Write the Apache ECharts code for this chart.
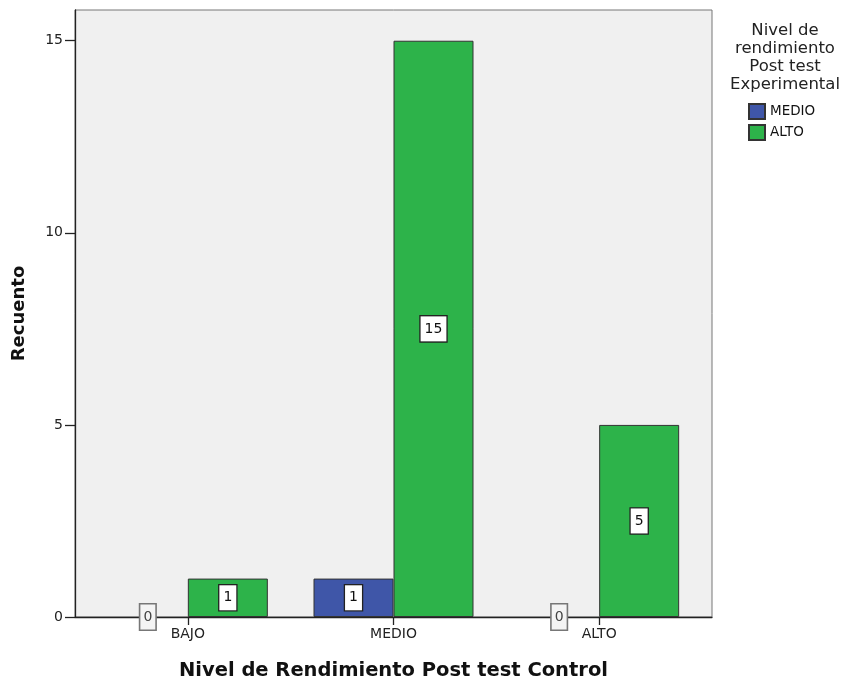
<!DOCTYPE html>
<html>
<head>
<meta charset="utf-8">
<script src="https://cdn.jsdelivr.net/npm/echarts@6/dist/echarts.min.js"></script>
<style>html,body{margin:0;padding:0;background:#fff;}#c{width:844px;height:679px;}</style>
</head>
<body>
<div id="c"></div>
<script>
const categories = ['BAJO', 'MEDIO', 'ALTO'];
const seriesNames = ['MEDIO', 'ALTO'];
const medioValues = [0, 1, 0];
const altoValues = [1, 15, 5];
const yTicks = [0, 5, 10, 15];

const chart = echarts.init(document.getElementById('c'));
const font = 'DejaVu Sans, Verdana, sans-serif';
const baseLabel = {
  show: true, position: 'inside', color: '#111', fontSize: 14, lineHeight: 15, fontFamily: font,
  backgroundColor: '#fff', borderColor: '#222', borderWidth: 1.3, padding: [5, 4, 5, 4]
};
function mkData(vals) {
  return vals.map(v => v === 0
    ? { value: v, itemStyle: { borderWidth: 0 }, label: { color: '#444', borderColor: '#777', backgroundColor: '#f4f4f4', borderWidth: 1.6, padding: [5, 3, 5, 3] } }
    : { value: v });
}
chart.setOption({
  animation: false,
  title: {
    text: 'Nivel de\nrendimiento\nPost test\nExperimental',
    left: 780, top: 17, textAlign: 'center',
    textStyle: { fontSize: 16.5, fontWeight: 'normal', color: '#222', fontFamily: font, lineHeight: 18 }
  },
  legend: {
    data: seriesNames, orient: 'vertical', left: 743, top: 98,
    itemWidth: 16, itemHeight: 15, itemGap: 4, icon: 'rect',
    textStyle: { fontSize: 13.5, color: '#111', fontFamily: font }
  },
  grid: [
    { left: 75, right: 132, top: 10, bottom: 62, show: true, backgroundColor: '#f0f0f0', borderColor: '#777', borderWidth: 1, containLabel: false, outerBoundsMode: 'none' },
    { left: 85, right: 142, top: 10, bottom: 62, containLabel: false, outerBoundsMode: 'none' }
  ],
  xAxis: [
    { gridIndex: 0, type: 'value', min: 0, max: 1, axisLine: { show: true, lineStyle: { color: '#222', width: 1.3 } }, axisTick: { show: false }, axisLabel: { show: false }, splitLine: { show: false } },
    { gridIndex: 1, type: 'category', data: categories,
      axisLine: { show: false },
      axisTick: { show: true, alignWithLabel: true, length: 8, inside: false, lineStyle: { color: '#222', width: 1.3 } },
      axisLabel: { fontSize: 14, color: '#222', fontFamily: font, margin: 10 },
      name: 'Nivel de Rendimiento Post test Control', nameLocation: 'middle', nameGap: 44,
      nameTextStyle: { fontSize: 19.5, fontWeight: 'bold', color: '#111', fontFamily: font }
    }
  ],
  yAxis: [
    { gridIndex: 0, type: 'value', min: 0, max: 1, axisLine: { show: true, lineStyle: { color: '#222', width: 1.3 } }, axisTick: { show: false }, axisLabel: { show: false }, splitLine: { show: false } },
    { gridIndex: 1, type: 'value', min: 0, max: 15.8, interval: 5, offset: 10,
      axisLine: { show: false },
      axisTick: { show: true, length: 10, lineStyle: { color: '#222', width: 1.3 } },
      axisLabel: { fontSize: 14, color: '#222', fontFamily: font, margin: 12, showMaxLabel: false,
        formatter: v => yTicks.includes(v) ? String(v) : '' },
      splitLine: { show: false },
      name: 'Recuento', nameLocation: 'middle', nameGap: 47, nameRotate: 90,
      nameTextStyle: { fontSize: 18, fontWeight: 'bold', color: '#111', fontFamily: font }
    }
  ],
  series: [
    { name: 'MEDIO', type: 'bar', xAxisIndex: 1, yAxisIndex: 1, data: mkData(medioValues), barWidth: 80, barGap: '0%',
      itemStyle: { color: '#3f56a8', borderColor: '#333', borderWidth: 1 }, label: baseLabel },
    { name: 'ALTO', type: 'bar', xAxisIndex: 1, yAxisIndex: 1, data: mkData(altoValues), barWidth: 80, barGap: '0%',
      itemStyle: { color: '#2db34a', borderColor: '#333', borderWidth: 1 }, label: baseLabel }
  ]
});
</script>
</body>
</html>
